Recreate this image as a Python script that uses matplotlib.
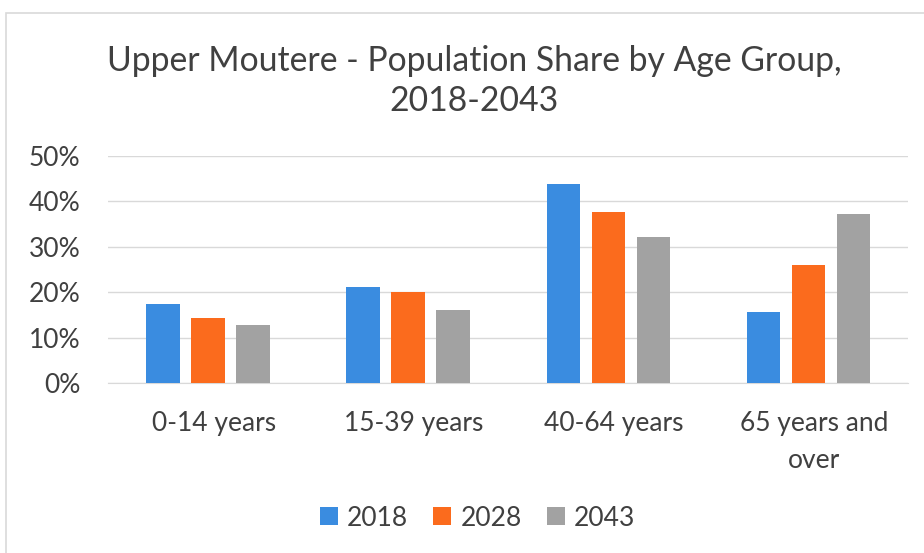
import matplotlib
matplotlib.use("Agg")
import matplotlib.pyplot as plt
import numpy as np
from matplotlib.patches import Rectangle
from matplotlib.ticker import PercentFormatter
from matplotlib.transforms import ScaledTranslation

categories = ["0-14 years", "15-39 years", "40-64 years", "65 years and\nover"]
years = ["2018", "2028", "2043"]
share_2018 = [17.5, 21.2, 43.8, 15.6]
share_2028 = [14.4, 20.0, 37.6, 26.0]
share_2043 = [12.8, 16.1, 32.1, 37.3]
series = [share_2018, share_2028, share_2043]
colors = ["#3a8ce0", "#fb6b1d", "#a2a2a2"]

plt.rcParams['font.family'] = ['Lato', 'DejaVu Sans']
text_color = "#404040"

fig = plt.figure(figsize=(9.24, 5.53), dpi=100)
fig.patch.set_facecolor("white")
fig.add_artist(Rectangle((0.006, -0.01), 1.2, 0.987, transform=fig.transFigure,
                         fill=False, edgecolor="#d9d9d9", linewidth=1.2))

ax = fig.add_axes([0.117, 0.307, 0.866, 0.411])
x = np.arange(len(categories))
width = 0.167
step = 0.225
for i, (vals, c, y) in enumerate(zip(series, colors, years)):
    ax.bar(x + (i - 1) * step, vals, width=width, color=c, label=y, zorder=3)

ax.set_ylim(0, 50)
ax.set_xlim(-0.5, len(categories) - 0.5)
ax.set_yticks([0, 10, 20, 30, 40, 50])
ax.yaxis.set_major_formatter(PercentFormatter(decimals=0))
ax.grid(axis="y", color="#d9d9d9", linewidth=1, zorder=0)
for s in ax.spines.values():
    s.set_visible(False)
ax.spines["bottom"].set_visible(True)
ax.spines["bottom"].set_color("#d9d9d9")
ax.tick_params(axis="both", length=0, labelsize=19, colors=text_color)
ax.tick_params(axis="y", pad=20)
ax.tick_params(axis="x", pad=20)
ax.set_xticks(x)
ax.set_xticklabels(categories, linespacing=1.6)
offset = ScaledTranslation(6 / 100, 0, fig.dpi_scale_trans)
for lbl in ax.get_xticklabels():
    lbl.set_transform(lbl.get_transform() + offset)

fig.text(0.513, 0.853, "Upper Moutere - Population Share by Age Group,\n2018-2043",
         ha="center", va="center", fontsize=24.3, color=text_color, linespacing=1.3)

leg = fig.legend(loc="center", bbox_to_anchor=(0.517, 0.063), ncol=3, frameon=False,
                 fontsize=19, handlelength=0.68, handleheight=0.68,
                 handletextpad=0.35, columnspacing=0.95)
for t in leg.get_texts():
    t.set_color(text_color)

fig.savefig("out.png", dpi=100, facecolor="white")
